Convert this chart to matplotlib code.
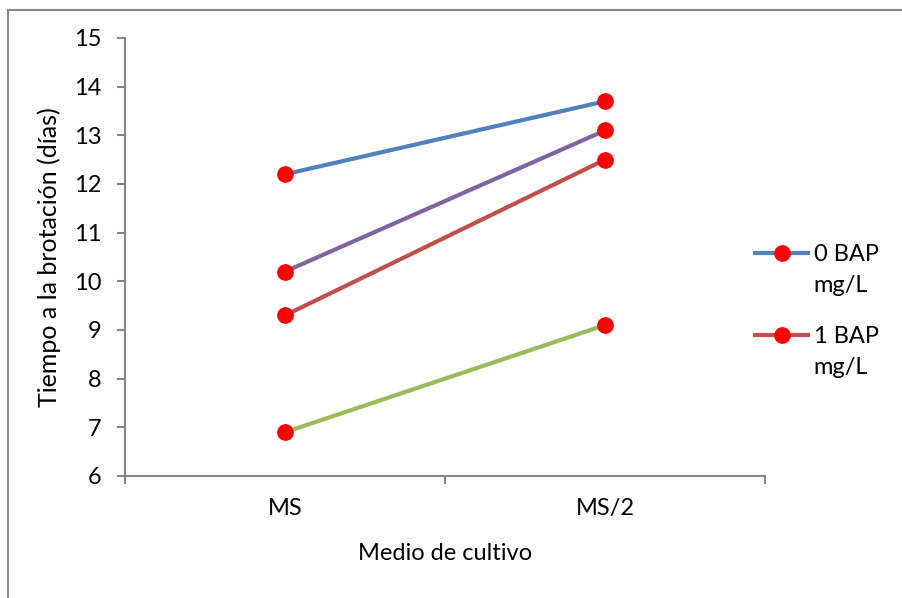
import matplotlib
matplotlib.use("Agg")
import matplotlib.pyplot as plt
from matplotlib.lines import Line2D

plt.rcParams['font.family'] = ['Lato', 'DejaVu Sans']

categories = ["MS", "MS/2"]
legend_labels = ["0 BAP", "1 BAP"]
legend_units = "mg/L"
series_0 = [12.2, 13.7]
series_1 = [9.3, 12.5]
series_2 = [6.9, 9.1]
series_3 = [10.2, 13.1]
series_colors = ["#4F81BD", "#C0504D", "#9BBB59", "#8064A2"]
y_ticks = [6, 7, 8, 9, 10, 11, 12, 13, 14, 15]

FS = 17
W, H = 903, 598

fig = plt.figure(figsize=(W / 100, H / 100), dpi=100)
ax = fig.add_axes([125/W, 1-476/H, 640/W, 438/H])

xs = list(range(len(categories)))
handles = []
for vals, col in zip([series_0, series_1, series_2, series_3], series_colors):
    h, = ax.plot(xs, vals, color=col, lw=3.0, marker='o', markersize=11,
                 markerfacecolor='#FF0000', markeredgecolor='#FF0000',
                 solid_capstyle='butt', zorder=3)
    handles.append(h)

ax.set_xlim(-0.5, len(categories) - 0.5)
ax.set_ylim(6, 15)
ax.set_yticks(y_ticks)
ax.set_xticks([i - 0.5 for i in range(len(categories) + 1)])
ax.set_xticklabels([])
ax.set_xticks(xs, minor=True)
ax.set_xticklabels(categories, minor=True)
ax.tick_params(axis='x', which='minor', length=0, pad=16, labelsize=FS)
ax.tick_params(axis='x', which='major', length=6, width=1.5, color='#868686', direction='out')
ax.tick_params(axis='y', length=6, width=1.5, color='#868686', direction='out', pad=11, labelsize=FS)

for s in ['top', 'right']:
    ax.spines[s].set_visible(False)
for s in ['left', 'bottom']:
    ax.spines[s].set_color('#868686')
    ax.spines[s].set_linewidth(1.5)

ax.set_xlabel("Medio de cultivo", fontsize=FS, labelpad=17)
ax.set_ylabel("Tiempo a la brotación (días)", fontsize=18, labelpad=9)

# legend keys on the first text line, units on a second line below each label
leg = fig.legend(handles[:2], legend_labels, loc='upper left',
                 bbox_to_anchor=(744/W, 1-235/H), frameon=False, fontsize=FS,
                 handlelength=2.4, handletextpad=0.15, labelspacing=2.58,
                 borderaxespad=0)
fig.canvas.draw()
for t in leg.get_texts():
    bb = t.get_window_extent()
    fig.text(bb.x0 / W, (bb.y0 - 31) / H, legend_units, fontsize=FS,
             ha='left', va='bottom')

# outer chart frame
fig.add_artist(Line2D([8/W, 8/W], [0, 1-10/H], color='#868686', lw=1.5,
                      transform=fig.transFigure))
fig.add_artist(Line2D([8/W, 1], [1-10/H, 1-10/H], color='#868686', lw=1.5,
                      transform=fig.transFigure))

fig.savefig("out.png", dpi=100)
